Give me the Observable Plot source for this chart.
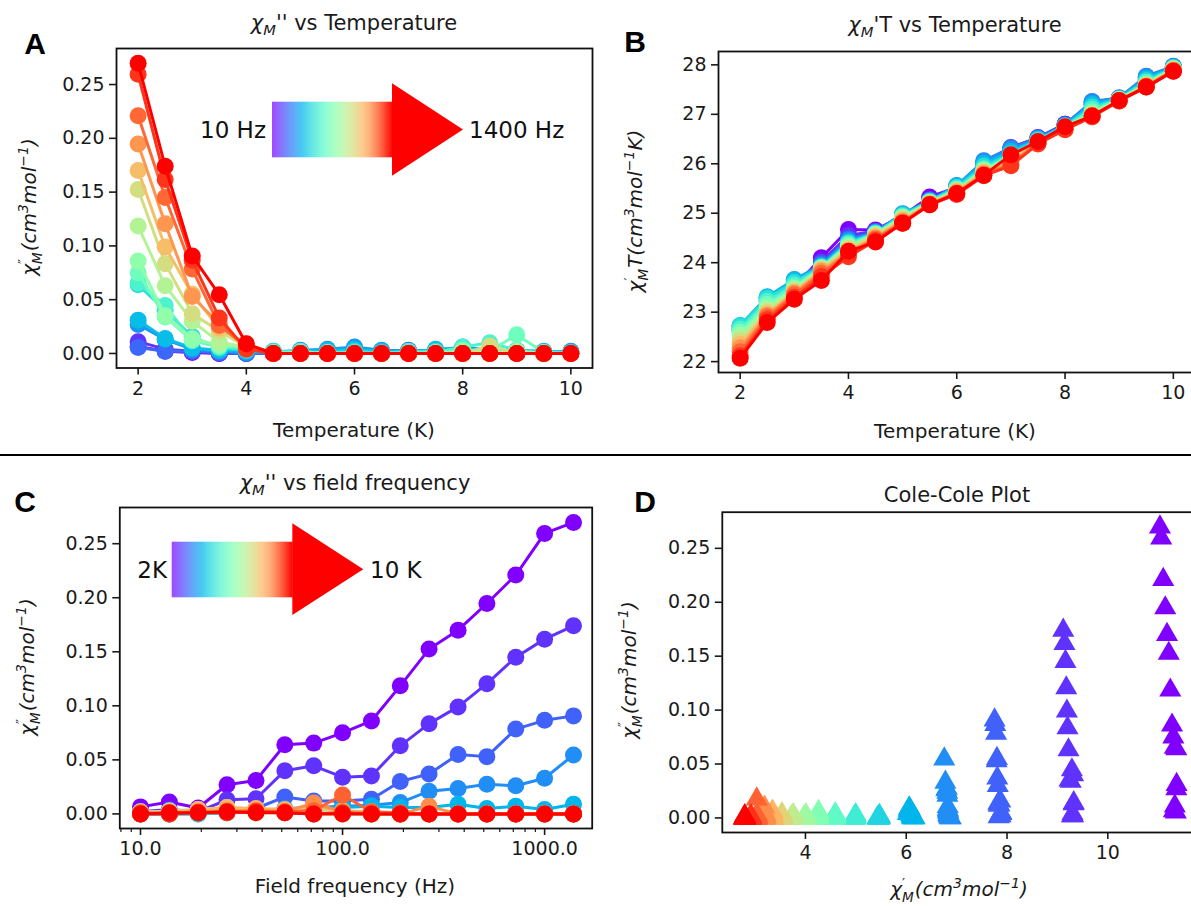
<!DOCTYPE html>
<html><head><meta charset="utf-8">
<script src="https://cdn.jsdelivr.net/npm/d3@7"></script>
<script src="https://cdn.jsdelivr.net/npm/@observablehq/plot@0.6"></script>
<style>
html,body{margin:0;padding:0;background:#fff;overflow:hidden;}
#root{position:relative;width:1191px;height:906px;overflow:hidden;font-family:"DejaVu Sans",sans-serif;color:#1a1a1a;}
.panel{position:absolute;}
.lbl{position:absolute;white-space:nowrap;transform:translate(-50%,-50%);font-size:20px;line-height:1;}
.rot{transform:translate(-50%,-50%) rotate(-90deg);}
.letter{position:absolute;transform:translate(-50%,-50%);font-family:"Liberation Sans",Arial,sans-serif;font-weight:bold;font-size:30px;line-height:1;color:#000}
.ss{display:inline-flex;flex-direction:column;vertical-align:middle;font-size:0.68em;line-height:1.05;text-align:left;margin-right:1px}
sup,sub{font-size:0.7em;line-height:0}
</style></head><body><div id="root"></div>
<script>
// ---------- data ----------
const temps = [2,2.5,3,3.5,4,4.5,5,5.5,6,6.5,7,7.5,8,8.5,9,9.5,10];
const freqs = [10,13.9,19.3,26.8,37.3,51.8,72,100,139,193,268,373,518,720,1000,1390];

// chi'' (cm3/mol) at each temperature, one value per frequency
const chiPP_2_0 = [0.0065,0.011,0.0055,0.027,0.031,0.064,0.0655,0.075,0.086,0.1185,0.1525,0.170,0.1947,0.221,0.2595,0.2697];
const chiPP_2_5 = [0.002,0.004,0.002,0.013,0.014,0.040,0.0445,0.034,0.035,0.063,0.0835,0.099,0.1205,0.145,0.1617,0.174];
const chiPP_3_0 = [0.001,0.002,0.002,0.004,0.005,0.0157,0.012,0.012,0.0136,0.030,0.037,0.055,0.053,0.0785,0.0866,0.0907];
const chiPP_3_5 = [0,0,0.001,0.002,0.003,0.005,0.006,0.007,0.008,0.0105,0.021,0.0236,0.0275,0.026,0.033,0.0546];
const chiPP_4_0 = [0,0,0,0.001,0.002,0.003,0.004,0.006,0.007,0.006,0.006,0.009,0.005,0.007,0.004,0.009];
const chiPP_4_5 = [0.001,0,0,0.001,0.002,0.002,0.001,0.001,0,0,0,0,0,0,0,0];
const chiPP_5_0 = [0,0.001,0.002,0.003,0.002,0.001,0.002,0.001,0,0,0,0,0,0,0,0];
const chiPP_5_5 = [0.002,0.001,0.003,0.004,0.003,0.001,0,0.001,0,0,0,0,0,0,0,0];
const chiPP_6_0 = [0.001,0.003,0.004,0.006,0.004,0.002,0.001,0,0,0,0,0,0,0,0,0];
const chiPP_6_5 = [0,0.001,0.002,0.003,0.002,0.001,0,0,0,0,0,0,0,0,0,0];
const chiPP_7_0 = [0.001,0.002,0.003,0.002,0.001,0.001,0.002,0,0,0,0,0,0,0,0,0];
const chiPP_7_5 = [0.002,0.001,0.002,0.003,0.004,0.002,0.001,0.001,0,0,0,0,0,0,0,0];
const chiPP_8_0 = [0.001,0.002,0.004,0.006,0.005,0.004,0.006,0.003,0.002,0,0,0,0,0,0,0];
const chiPP_8_5 = [0,0.001,0.002,0.003,0.002,0.002,0.010,0.002,0.001,0,0.007,0,0,0,0,0];
const chiPP_9_0 = [0.001,0,0.001,0.002,0.003,0.002,0.003,0.0175,0.002,0.001,0,0,0,0,0,0];
const chiPP_9_5 = [0,0,0.001,0.001,0.002,0.001,0,0.001,0,0,0,0,0,0,0,0];
const chiPP_10_0 = [0,0.001,0.001,0.002,0.001,0.001,0,0,0,0,0,0,0,0,0,0];

// chi'T (cm3 mol-1 K) at each temperature, one value per frequency
const chiT_2_0 = [22.62,22.66,22.70,22.72,22.73,22.72,22.66,22.60,22.55,22.48,22.42,22.35,22.28,22.20,22.12,22.07];
const chiT_2_5 = [23.22,23.25,23.28,23.30,23.31,23.28,23.22,23.16,23.10,23.05,23.00,22.97,22.94,22.90,22.85,22.79];
const chiT_3_0 = [23.50,23.55,23.62,23.66,23.65,23.60,23.55,23.50,23.48,23.45,23.42,23.40,23.38,23.35,23.30,23.26];
const chiT_3_5 = [24.10,24.02,23.98,23.95,23.92,23.92,23.90,23.90,23.88,23.88,23.86,23.85,23.82,23.78,23.72,23.64];
const chiT_4_0 = [24.67,24.55,24.48,24.45,24.42,24.40,24.38,24.35,24.33,24.30,24.28,24.25,24.22,24.18,24.12,24.23];
const chiT_4_5 = [24.66,24.64,24.62,24.60,24.60,24.60,24.58,24.58,24.57,24.55,24.54,24.52,24.50,24.48,24.45,24.42];
const chiT_5_0 = [24.95,24.97,24.98,24.99,24.98,24.96,24.94,24.92,24.92,24.90,24.88,24.86,24.84,24.82,24.80,24.80];
const chiT_5_5 = [25.33,25.28,25.26,25.25,25.24,25.24,25.22,25.22,25.21,25.20,25.20,25.19,25.18,25.18,25.17,25.17];
const chiT_6_0 = [25.52,25.54,25.55,25.56,25.55,25.52,25.50,25.48,25.46,25.46,25.45,25.44,25.42,25.40,25.38,25.40];
const chiT_6_5 = [25.95,26.02,26.06,26.05,26.00,25.95,25.90,25.88,25.86,25.85,25.84,25.82,25.80,25.78,25.76,25.77];
const chiT_7_0 = [26.30,26.33,26.32,26.30,26.25,26.20,26.18,26.15,26.12,26.10,26.08,26.06,26.02,25.98,25.96,26.18];
const chiT_7_5 = [26.52,26.53,26.52,26.50,26.50,26.48,26.46,26.45,26.44,26.44,26.43,26.42,26.42,26.41,26.40,26.45];
const chiT_8_0 = [26.80,26.80,26.78,26.78,26.77,26.76,26.75,26.74,26.73,26.72,26.72,26.71,26.70,26.70,26.69,26.75];
const chiT_8_5 = [27.20,27.24,27.26,27.25,27.20,27.15,27.10,27.05,27.02,27.00,26.98,26.97,26.96,26.95,26.95,26.97];
const chiT_9_0 = [27.32,27.33,27.33,27.32,27.32,27.31,27.30,27.30,27.30,27.29,27.29,27.28,27.28,27.27,27.27,27.28];
const chiT_9_5 = [27.70,27.74,27.77,27.76,27.72,27.68,27.65,27.62,27.60,27.60,27.58,27.58,27.57,27.56,27.55,27.55];
const chiT_10_0 = [27.95,27.96,27.97,27.96,27.95,27.94,27.93,27.92,27.92,27.91,27.90,27.90,27.89,27.88,27.87,27.87];

const yTicksChi = [0,0.05,0.10,0.15,0.20,0.25];
const tTicks = [2,4,6,8,10];
const chiTTicks = [22,23,24,25,26,27,28];
const fTicks = [10,100,1000];
const fMinorTicks = [8,9,20,30,40,50,60,70,80,90,200,300,400,500,600,700,800,900];
const chiPTicks = [4,6,8,10];

// ---------- helpers ----------
const chiPPRows = [chiPP_2_0,chiPP_2_5,chiPP_3_0,chiPP_3_5,chiPP_4_0,chiPP_4_5,chiPP_5_0,chiPP_5_5,chiPP_6_0,chiPP_6_5,chiPP_7_0,chiPP_7_5,chiPP_8_0,chiPP_8_5,chiPP_9_0,chiPP_9_5,chiPP_10_0];
const chiTRows = [chiT_2_0,chiT_2_5,chiT_3_0,chiT_3_5,chiT_4_0,chiT_4_5,chiT_5_0,chiT_5_5,chiT_6_0,chiT_6_5,chiT_7_0,chiT_7_5,chiT_8_0,chiT_8_5,chiT_9_0,chiT_9_5,chiT_10_0];

// matplotlib "rainbow" colormap
function rainbow(t){
  const r = Math.min(1, Math.abs(2*t-0.5)), g = Math.max(0,Math.sin(Math.PI*t)), b = Math.max(0,Math.cos(Math.PI*t/2));
  return d3.rgb(r*255, g*255, b*255).formatHex();
}
const FONT = "DejaVu Sans";
const nF = freqs.length, nT = temps.length;
const colorF = {type:"ordinal", domain:d3.range(nF), range:d3.range(nF).map(i=>rainbow(i/(nF-1)))};
const colorT = {type:"ordinal", domain:d3.range(nT), range:d3.range(nT).map(j=>rainbow(j/(nT-1)))};

function axes(xt, yt, xfmt, yfmt){
  return [
    Plot.axisX({ticks:xt, tickFormat:xfmt, tickSize:7, tickPadding:6, strokeWidth:1.6, fontSize:19, label:null}),
    Plot.axisY({ticks:yt, tickFormat:yfmt, tickSize:7, tickPadding:5, strokeWidth:1.6, fontSize:19, label:null})
  ];
}
function seriesMarks(groups){
  return groups.flatMap(d => [
    Plot.line(d, {x:"x", y:"y", stroke:"s", strokeWidth:3}),
    Plot.dot(d, {x:"x", y:"y", fill:"s", r:8.5})
  ]);
}
const root = document.getElementById("root");
function place(el, left, top){ el.classList.add("panel"); el.style.left=left+"px"; el.style.top=top+"px"; root.appendChild(el); }

// ---------- Panel A: chi'' vs T, one series per frequency ----------
const groupsA = freqs.map((f,i)=> temps.map((t,j)=>({x:t, y:chiPPRows[j][i], s:i})));
const plotA = Plot.plot({
  width:600, height:450, marginLeft:116, marginRight:8, marginTop:48, marginBottom:82.5,
  style:{fontFamily:FONT, fontSize:"19px", color:"#1a1a1a", background:"transparent"},
  x:{domain:[1.6,10.4], label:null}, y:{domain:[-0.0135,0.2835], label:null}, color:colorF,
  marks:[...seriesMarks(groupsA), ...axes(tTicks, yTicksChi, d=>d, d=>d.toFixed(2)), Plot.frame({stroke:"#111", strokeWidth:1.8})]
});
place(plotA, 0, 0);

// ---------- Panel B: chi'T vs T ----------
const groupsB = freqs.map((f,i)=> temps.map((t,j)=>({x:t, y:chiTRows[j][i], s:i})));
const plotB = Plot.plot({
  width:600, height:450, marginLeft:118, marginRight:5.5, marginTop:51, marginBottom:78,
  style:{fontFamily:FONT, fontSize:"19px", color:"#1a1a1a", background:"transparent"},
  x:{domain:[1.6,10.4], label:null}, y:{domain:[21.78,28.27], label:null}, color:colorF,
  marks:[...seriesMarks(groupsB), ...axes(tTicks, chiTTicks, d=>d, d=>d), Plot.frame({stroke:"#111", strokeWidth:1.8})]
});
place(plotB, 600, 0);

// ---------- Panel C: chi'' vs frequency, one series per temperature ----------
const groupsC = temps.map((t,j)=> freqs.map((f,i)=>({x:f, y:chiPPRows[j][i], s:j})));
const plotC = Plot.plot({
  width:600, height:450, marginLeft:119.3, marginRight:8.3, marginTop:52, marginBottom:77,
  style:{fontFamily:FONT, fontSize:"19px", color:"#1a1a1a", background:"transparent"},
  x:{type:"log", domain:[7.9,1720], label:null}, y:{domain:[-0.0135,0.2835], label:null}, color:colorT,
  marks:[...seriesMarks(groupsC),
    ...axes(fTicks, yTicksChi, d=>d.toFixed(1), d=>d.toFixed(2)),
    Plot.axisX({ticks:fMinorTicks, tickSize:4, strokeWidth:1.2, tickFormat:()=>"", label:null}),
    Plot.frame({stroke:"#111", strokeWidth:1.8})]
});
place(plotC, 0, 455);

// ---------- Panel D: Cole-Cole ----------
const dataD = temps.flatMap((t,j)=> freqs.map((f,i)=>({x:chiTRows[j][i]/t, y:chiPPRows[j][i], s:j})));
const plotD = Plot.plot({
  width:600, height:450, marginLeft:121.8, marginRight:3, marginTop:56.7, marginBottom:73,
  style:{fontFamily:FONT, fontSize:"19px", color:"#1a1a1a", background:"transparent"},
  x:{domain:[2.35,11.78], label:null}, y:{domain:[-0.0135,0.2835], label:null}, color:colorT,
  marks:[Plot.dot(dataD,{x:"x", y:"y", fill:"s", symbol:"triangle", r:8.2}),
    ...axes(chiPTicks, yTicksChi, d=>d, d=>d.toFixed(2)), Plot.frame({stroke:"#111", strokeWidth:1.8})]
});
place(plotD, 600, 455);

// ---------- text labels ----------
function label(html, cx, cy, cls="lbl", size){
  const d = document.createElement("div"); d.className = cls; d.innerHTML = html;
  d.style.left = cx+"px"; d.style.top = cy+"px"; if(size) d.style.fontSize = size+"px";
  root.appendChild(d); return d;
}
const chiM = '<i>χ<sub>M</sub></i>';
const chiPPM = '<i>χ</i><span class="ss"><span>″</span><span><i>M</i></span></span>';
const chiPM = '<i>χ</i><span class="ss"><span>′</span><span><i>M</i></span></span>';
const unit = '<i>(cm<sup>3</sup>mol<sup>−1</sup>)</i>';
label(chiM+"'' vs Temperature", 354, 23, "lbl", 21);
label(chiM+"'T vs Temperature", 955, 25, "lbl", 21);
label(chiM+"'' vs field frequency", 355, 483, "lbl", 21);
label("Cole-Cole Plot", 957, 495, "lbl", 21);
label("Temperature (K)", 354, 430);
label("Temperature (K)", 955, 431);
label("Field frequency (Hz)", 355, 886);
label(chiPM+unit, 959, 890);
label(chiPPM+unit, 30, 207, "lbl rot");
label(chiPM+'<i>T(cm<sup>3</sup>mol<sup>−1</sup>K)</i>', 636, 211, "lbl rot");
label(chiPPM+unit, 28, 667, "lbl rot");
label(chiPPM+unit, 630, 670, "lbl rot");
label("A", 35, 44, "letter"); label("B", 635, 42, "letter");
label("C", 25, 502, "letter"); label("D", 645, 502, "letter");

// ---------- overlay: separator and gradient arrows ----------
const ns = "http://www.w3.org/2000/svg";
const ov = document.createElementNS(ns, "svg");
ov.setAttribute("width", 1191); ov.setAttribute("height", 906);
ov.style.cssText = "position:absolute;left:0;top:0;pointer-events:none;font-family:'DejaVu Sans'";
let stops = "";
for (let k=0;k<=20;k++){ const t=k/20; const op = t<0.8?0.72:0.72+(t-0.8)/0.2*0.28; stops += `<stop offset="${t}" stop-color="${rainbow(t)}" stop-opacity="${op.toFixed(2)}"/>`; }
ov.innerHTML = `<defs><linearGradient id="gr" x1="0" x2="1" y1="0" y2="0">${stops}</linearGradient></defs>
<line x1="0" x2="1191" y1="455" y2="455" stroke="#000" stroke-width="2"/>
<rect x="272" y="101.7" width="121" height="55.6" fill="url(#gr)"/>
<polygon points="392,83.3 392,175.7 463,129.5" fill="#ff0000"/>
<text x="266" y="130" text-anchor="end" dominant-baseline="central" font-size="23" fill="#111">10 Hz</text>
<text x="469" y="130" dominant-baseline="central" font-size="23" fill="#111">1400 Hz</text>
<rect x="171.7" y="541.7" width="121" height="55.6" fill="url(#gr)"/>
<polygon points="292.3,523.3 292.3,615 363.3,569.2" fill="#ff0000"/>
<text x="167" y="570" text-anchor="end" dominant-baseline="central" font-size="23" fill="#111">2K</text>
<text x="370" y="570" dominant-baseline="central" font-size="23" fill="#111">10 K</text>`;
root.appendChild(ov);
</script></body></html>
